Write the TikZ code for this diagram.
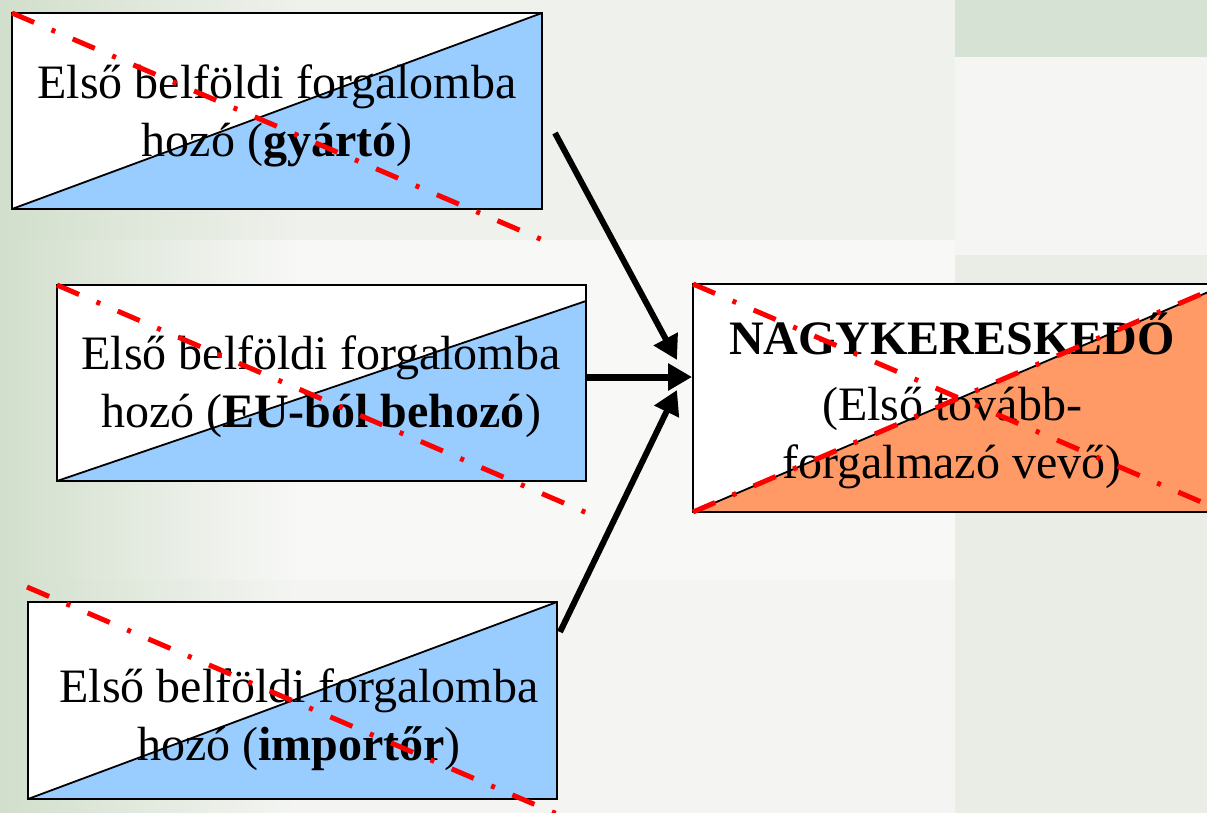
\documentclass[tikz,border=0pt]{standalone}
\usepackage{fontspec}
\setmainfont{Liberation Serif}
\usetikzlibrary{arrows.meta}
\definecolor{boxblue}{HTML}{99CCFF}
\definecolor{boxorange}{HTML}{FF9966}
\definecolor{xred}{HTML}{FF0000}
\definecolor{bgbase}{HTML}{EFF1EC}
\definecolor{bggreen}{HTML}{D2DFCC}
\definecolor{bgwhite}{HTML}{F8F8F7}
\definecolor{bgright}{HTML}{E9EDE6}
\definecolor{bgtopright}{HTML}{D6E2D3}
\begin{document}
\begin{tikzpicture}[x=1pt,y=-1pt,
  boxshape/.style={rectangle, draw=none, fill=white, inner sep=0pt, outer sep=0pt,
    minimum width=#1},
  border/.style={draw=black, line width=2.5pt},
  diag/.style={draw=black, line width=1.8pt},
  reddash/.style={draw=xred, line width=5pt, dash pattern=on 24pt off 19pt on 4pt off 19pt},
  arr/.style={draw=black, line width=6pt, -{Triangle[length=24pt,width=26pt]}},
  txt/.style={align=center, inner sep=0pt, font=\fontsize{48}{58}\selectfont}
]
\useasboundingbox (0,0) rectangle (1207,813);
\clip (0,0) rectangle (1207,813);
% background
\fill[bgbase] (0,0) rectangle (1207,813);
\fill[bgwhite] (290,240) rectangle (955,580);
\fill[bgwhite!60!bgbase] (290,580) rectangle (955,813);
\shade[left color=bggreen, right color=bgbase] (0,0) rectangle (300,240);
\shade[left color=bggreen, right color=bgwhite] (0,240) rectangle (300,580);
\shade[left color=bggreen, right color=bgwhite!60!bgbase] (0,580) rectangle (300,813);
\fill[bgtopright] (955,0) rectangle (1207,57);
\fill[bgwhite!70!bgbase] (955,57) rectangle (1207,255);
\fill[bgright] (955,255) rectangle (1207,813);

% box 1
\node[boxshape=530pt, minimum height=196pt] (b1) at (277,111) {};
\fill[boxblue] (b1.south west) -- (b1.north east) -- (b1.south east) -- cycle;
\draw[diag] (b1.south west) -- (b1.north east);
\draw[border] (b1.south west) rectangle (b1.north east);
\node[txt] (t1) at (277,115.5) {Első belföldi forgalomba\\hozó (\textbf{gyártó})};
\coordinate (r1) at (545,241);
\draw[reddash] (b1.north west) -- (r1);

% box 2
\node[boxshape=529pt, minimum height=196pt] (b2) at (321.5,383) {};
\coordinate (d2) at (586,301);
\fill[boxblue] (b2.south west) -- (d2) -- (b2.south east) -- cycle;
\draw[diag] (b2.south west) -- (d2);
\draw[border] (b2.south west) rectangle (b2.north east);
\node[txt] (t2) at (321,386.5) {Első belföldi forgalomba\\hozó (\textbf{EU-ból behozó})};
\coordinate (r2) at (587,513);
\draw[reddash] (b2.north west) -- (r2);

% box 3
\node[boxshape=529pt, minimum height=197pt] (b3) at (292.5,700.5) {};
\fill[boxblue] (b3.south west) -- (b3.north east) -- (b3.south east) -- cycle;
\draw[diag] (b3.south west) -- (b3.north east);
\draw[border] (b3.south west) rectangle (b3.north east);
\node[txt] (t3) at (299,720) {Első belföldi forgalomba\\hozó (\textbf{importőr})};
\coordinate (r3s) at (27,587);
\coordinate (r3) at (557,814);
\draw[reddash] (r3s) -- (r3);

% box 4
\node[boxshape=520pt, minimum height=228pt] (b4) at (953,398) {};
\coordinate (d4) at (1213,290);
\fill[boxorange] (b4.south west) -- (d4) -- (b4.south east) -- cycle;
\draw[diag] (b4.south west) -- (d4);
\draw[border] (b4.south west) rectangle (b4.north east);
\node[txt] (t4) at (952,401) {\textbf{NAGYKERESKEDŐ}\\[8pt](Első tovább-\\forgalmazó vevő)};
\coordinate (r4a) at (1213,507);
\coordinate (r4b) at (1213,289);
\draw[reddash] (b4.north west) -- (r4a);
\draw[reddash] (b4.south west) -- (r4b);

% arrows
\coordinate (a1s) at (555,133);
\coordinate (a1e) at (677,360);
\coordinate (a2s) at (587,377);
\coordinate (a2e) at (692,377);
\coordinate (a3s) at (560,632);
\coordinate (a3e) at (677,390);
\draw[arr] (a1s) -- (a1e);
\draw[arr, line width=7pt] (a2s) -- (a2e);
\draw[arr] (a3s) -- (a3e);
\end{tikzpicture}
\end{document}
